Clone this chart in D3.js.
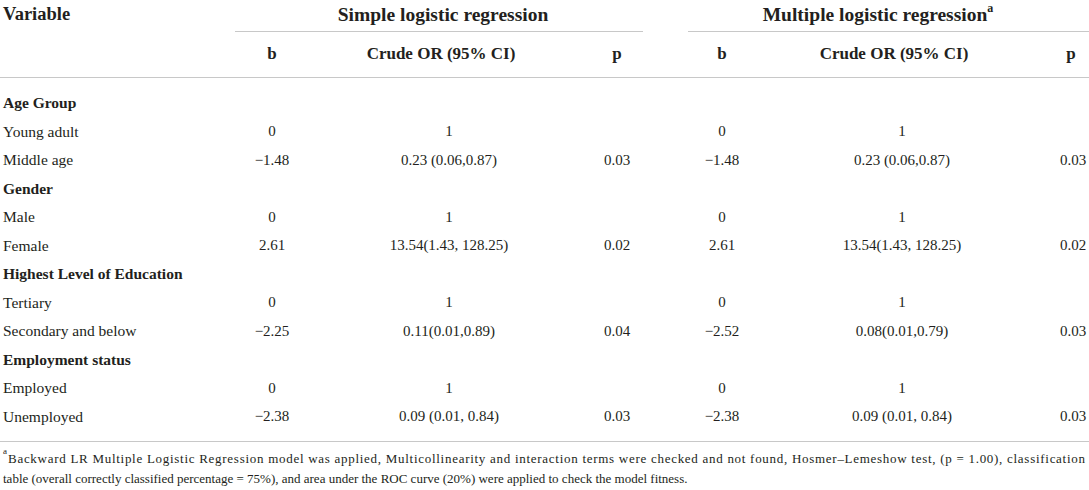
<!DOCTYPE html>
<html lang="en">
<head>
<meta charset="utf-8">
<title>Logistic regression table</title>
<style>
  body { margin: 0; background: #fff; }
  svg text { font-family: "Liberation Serif", "DejaVu Serif", serif; fill: #231f20; }
</style>
</head>
<body>
<svg width="1089" height="490"></svg>
<script src="https://d3js.org/d3.v7.min.js"></script>
<script>
var groups = ["Simple logistic regression", "Multiple logistic regression"];
var subHeaders = ["b", "Crude OR (95% CI)", "p"];

var rowLabels = ["Age Group", "Young adult", "Middle age",
                 "Gender", "Male", "Female",
                 "Highest Level of Education", "Tertiary", "Secondary and below",
                 "Employment status", "Employed", "Unemployed"];
var rowIsHeading = [1, 0, 0, 1, 0, 0, 1, 0, 0, 1, 0, 0];

var simpleB  = ["", "0", "\u22121.48", "", "0", "2.61", "", "0", "\u22122.25", "", "0", "\u22122.38"];
var simpleOR = ["", "1", "0.23 (0.06,0.87)", "", "1", "13.54(1.43, 128.25)", "", "1", "0.11(0.01,0.89)", "", "1", "0.09 (0.01, 0.84)"];
var simpleP  = ["", "", "0.03", "", "", "0.02", "", "", "0.04", "", "", "0.03"];

var multiB  = ["", "0", "\u22121.48", "", "0", "2.61", "", "0", "\u22122.52", "", "0", "\u22122.38"];
var multiOR = ["", "1", "0.23 (0.06,0.87)", "", "1", "13.54(1.43, 128.25)", "", "1", "0.08(0.01,0.79)", "", "1", "0.09 (0.01, 0.84)"];
var multiP  = ["", "", "0.03", "", "", "0.02", "", "", "0.03", "", "", "0.03"];

var footnote = [
  "Backward LR Multiple Logistic Regression model was applied, Multicollinearity and interaction terms were checked and not found, Hosmer\u2013Lemeshow test, (p = 1.00), classification",
  "table (overall correctly classified percentage = 75%), and area under the ROC curve (20%) were applied to check the model fitness."
];

var svg = d3.select("svg"),
    W = +svg.attr("width");

var colKeys = ["b1", "or1", "p1", "b2", "or2", "p2"];
var columns = [simpleB, simpleOR, simpleP, multiB, multiOR, multiP];

// data column centres, and the slightly different header centres
var x = d3.scaleOrdinal().domain(colKeys).range([272, 449, 617, 722, 902, 1073]);
var xHead = d3.scaleOrdinal().domain(colKeys).range([272, 441, 617, 722, 894, 1071]);
var y = d3.scalePoint().domain(d3.range(rowLabels.length)).range([102.5, 416]);

var ruleColor = "#c8c8c8";

// header
svg.append("text")
    .attr("x", 3).attr("y", 14)
    .attr("dominant-baseline", "central")
    .attr("font-weight", "bold").attr("font-size", 18.5)
    .text("Variable");

var groupSpan = [[235, 643], [688, W]];
var groupCenter = [443, 878];

svg.selectAll(".grp")
    .data(groups)
  .enter().append("text")
    .attr("x", function(d, i) { return groupCenter[i]; })
    .attr("y", 14)
    .attr("dominant-baseline", "central")
    .attr("text-anchor", "middle")
    .attr("font-weight", "bold").attr("font-size", 19.5)
    .text(function(d) { return d; })
    .filter(function(d, i) { return i === 1; })
  .append("tspan")
    .attr("font-size", 12).attr("dy", -6)
    .text("a");

svg.selectAll(".grpline")
    .data(groupSpan)
  .enter().append("line")
    .attr("x1", function(d) { return d[0]; })
    .attr("x2", function(d) { return d[1]; })
    .attr("y1", 31.5).attr("y2", 31.5)
    .attr("stroke", ruleColor).attr("stroke-width", 1);

svg.selectAll(".sub")
    .data(colKeys)
  .enter().append("text")
    .attr("x", function(d) { return xHead(d); })
    .attr("y", 53)
    .attr("dominant-baseline", "central")
    .attr("text-anchor", "middle")
    .attr("font-weight", "bold").attr("font-size", 17)
    .text(function(d, i) { return subHeaders[i % 3]; });

svg.selectAll(".rule")
    .data([77.5, 441.5])
  .enter().append("line")
    .attr("x1", 0).attr("x2", W)
    .attr("y1", function(d) { return d; })
    .attr("y2", function(d) { return d; })
    .attr("stroke", ruleColor).attr("stroke-width", 1.2);

// row labels
svg.selectAll(".label")
    .data(rowLabels)
  .enter().append("text")
    .attr("x", 3)
    .attr("y", function(d, i) { return y(i); })
    .attr("dominant-baseline", "central")
    .attr("font-size", 15.5)
    .attr("font-weight", function(d, i) { return rowIsHeading[i] ? "bold" : "normal"; })
    .text(function(d) { return d; });

// cells
columns.forEach(function(col, c) {
  svg.selectAll(".cell" + c)
      .data(col)
    .enter().append("text")
      .attr("x", x(colKeys[c]))
      .attr("y", function(d, i) { return y(i); })
      .attr("dominant-baseline", "central")
      .attr("text-anchor", "middle")
      .attr("font-size", 15)
      .text(function(d) { return d; });
});

// footnote, first line justified to the full width
svg.append("text")
    .attr("x", 3).attr("y", 454)
    .attr("font-size", 9)
    .text("a");

svg.append("text")
    .attr("x", 8).attr("y", 458)
    .attr("dominant-baseline", "central")
    .attr("font-size", 13)
    .attr("textLength", W - 12)
    .attr("lengthAdjust", "spacing")
    .text(footnote[0]);

svg.append("text")
    .attr("x", 3).attr("y", 478)
    .attr("dominant-baseline", "central")
    .attr("font-size", 13)
    .text(footnote[1]);
</script>
</body>
</html>
